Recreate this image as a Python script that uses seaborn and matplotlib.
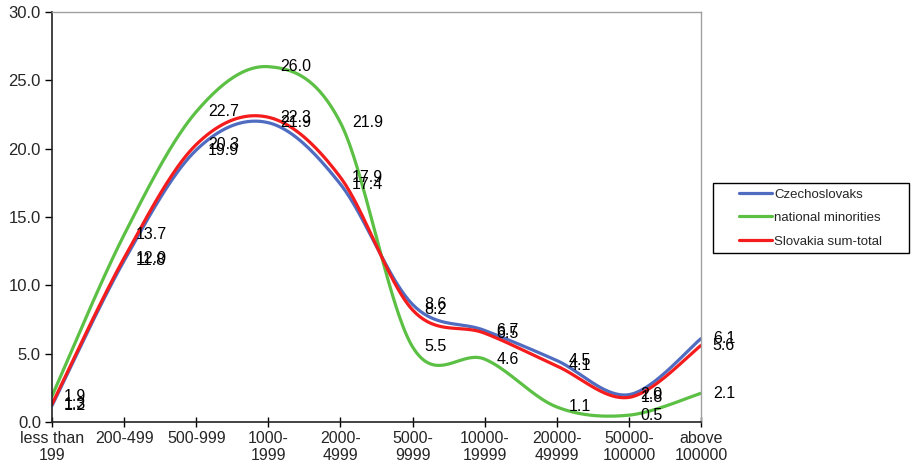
import numpy as np
import pandas as pd
import matplotlib
matplotlib.use("Agg")
import matplotlib.pyplot as plt
from matplotlib.patches import Rectangle
import seaborn as sns

categories = ["less than\n199", "200-499", "500-999", "1000-\n1999", "2000-\n4999",
              "5000-\n9999", "10000-\n19999", "20000-\n49999", "50000-\n100000", "above\n100000"]
czechoslovaks = [1.2, 11.8, 19.9, 21.9, 17.4, 8.6, 6.7, 4.5, 2.0, 6.1]
minorities = [1.9, 13.7, 22.7, 26.0, 21.9, 5.5, 4.6, 1.1, 0.5, 2.1]
slovakia = [1.3, 12.0, 20.3, 22.3, 17.9, 8.2, 6.5, 4.1, 1.8, 5.6]
series_names = ["Czechoslovaks", "national minorities", "Slovakia sum-total"]
series_values = [czechoslovaks, minorities, slovakia]
colors = ["#4f6cc0", "#5cc045", "#f41c1c"]
y_ticks = [0, 5, 10, 15, 20, 25, 30]

sns.set_theme(style="white")
plt.rcParams["font.family"] = ["Liberation Sans", "DejaVu Sans"]


def smooth(values, steps=40):
    """Bezier smoothing through every point (Catmull-Rom style control points)."""
    pts = np.column_stack([np.arange(len(values), dtype=float), np.asarray(values, float)])
    padded = np.vstack([pts[0], pts, pts[-1]])
    xs, ys = [], []
    t = np.linspace(0, 1, steps)[:, None]
    for i in range(len(pts) - 1):
        p0, p3 = padded[i + 1], padded[i + 2]
        c1 = p0 + (padded[i + 2] - padded[i]) / 6.0
        c2 = p3 - (padded[i + 3] - padded[i + 1]) / 6.0
        seg = ((1 - t) ** 3) * p0 + 3 * ((1 - t) ** 2) * t * c1 + 3 * (1 - t) * t ** 2 * c2 + t ** 3 * p3
        if i > 0:
            seg = seg[1:]
        xs.append(seg[:, 0])
        ys.append(seg[:, 1])
    return np.concatenate(xs), np.concatenate(ys)


frames = []
for name, vals in zip(series_names, series_values):
    sx, sy = smooth(vals)
    frames.append(pd.DataFrame({"x": sx, "y": sy, "series": name}))
curves = pd.concat(frames, ignore_index=True)

W, H = 913, 473
fig = plt.figure(figsize=(W / 100, H / 100), dpi=100)
ax = fig.add_axes([52 / W, 1 - 422 / H, (701 - 52) / W, (422 - 12) / H])

sns.lineplot(data=curves, x="x", y="y", hue="series", hue_order=series_names,
             palette=colors, estimator=None, sort=False, linewidth=2.3, ax=ax,
             legend=True)

for name, vals in zip(series_names, series_values):
    for i, v in enumerate(vals):
        ax.annotate(f"{v:.1f}", (i, v), xytext=(8.5, 0), textcoords="offset points",
                    ha="left", va="center", fontsize=11.5, color="black", zorder=5)

ax.set_xlim(0, len(categories) - 1)
ax.set_ylim(0, 30)
ax.set_xticks(range(len(categories)))
ax.set_xticklabels(categories, fontsize=11.5, linespacing=1.2)
ax.set_yticks(y_ticks)
ax.set_yticklabels([f"{v:.1f}" for v in y_ticks], fontsize=12)
ax.set_xlabel("")
ax.set_ylabel("")
ax.tick_params(axis="x", direction="inout", length=7, width=1, color="black", pad=3, bottom=True)
ax.tick_params(axis="y", direction="out", length=5, width=1, color="black", pad=3, left=True)

for side in ["left", "bottom"]:
    ax.spines[side].set_color("#222222")
    ax.spines[side].set_linewidth(1.2)
for side in ["top", "right"]:
    ax.spines[side].set_visible(True)
    ax.spines[side].set_color("#a0a0a0")
    ax.spines[side].set_linewidth(1.0)

# Legend: framed box drawn on the figure, entries placed inside it
fig.patches.append(Rectangle((713 / W, 1 - 253 / H), 196 / W, 70 / H,
                             transform=fig.transFigure, facecolor="none",
                             edgecolor="black", linewidth=1.0, zorder=-1))
leg = ax.legend(handles=ax.get_legend().legend_handles, labels=series_names,
                loc="center left", bbox_to_anchor=(739 / W, 1 - 218 / H),
                bbox_transform=fig.transFigure, frameon=False,
                fontsize=9.5, handlelength=2.5, handletextpad=0.15, labelspacing=0.85,
                borderpad=0.0, borderaxespad=0)
for line in leg.get_lines():
    line.set_linewidth(2.3)

fig.savefig("out.png", dpi=100)
